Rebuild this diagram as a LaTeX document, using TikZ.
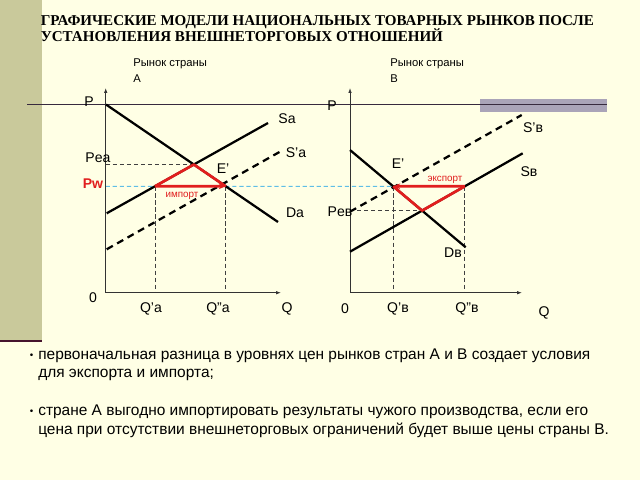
\documentclass[tikz,border=0pt]{standalone}
\usepackage{fontspec}
\setmainfont{Liberation Sans}
\newfontfamily\titlefont{Liberation Serif}
\usetikzlibrary{arrows.meta, positioning}
\definecolor{slidebg}{RGB}{255,255,229}
\definecolor{sidebar}{RGB}{201,201,155}
\definecolor{bandgray}{RGB}{170,164,184}
\definecolor{ruledark}{RGB}{55,42,62}
\definecolor{barline}{RGB}{70,20,45}
\definecolor{tradered}{RGB}{225,30,30}
\definecolor{worldblue}{RGB}{95,190,230}

\begin{document}
\begin{tikzpicture}[x=0.025cm, y=-0.025cm,
  axis/.style={draw=black!80, line width=0.6pt, -{Latex[length=3.5pt,width=2.5pt]}},
  curve/.style={line width=1.6pt},
  shifted/.style={line width=1.6pt, dash pattern=on 5pt off 3.5pt},
  guide/.style={draw=black!75, line width=0.6pt, dash pattern=on 3pt off 2pt},
  trade/.style={draw=tradered, line width=1.9pt, line join=round},
  lbl/.style={font=\fontsize{10}{12}\selectfont, inner sep=0pt},
  note/.style={font=\fontsize{7}{8}\selectfont, text=tradered, inner sep=0pt},
  mkt/.style={font=\fontsize{8}{9}\selectfont, inner sep=0pt, anchor=base west},
  body/.style={font=\fontsize{11}{13}\selectfont, inner sep=0pt, anchor=base west},
  heading/.style={font=\titlefont\bfseries\fontsize{10.7}{12}\selectfont, inner sep=0pt, anchor=base west}
]
  % slide background
  \fill[slidebg] (0,0) rectangle (640,480);
  \useasboundingbox (0,0) rectangle (640,480);
  \fill[sidebar] (0,0) rectangle (42,340);
  \draw[barline, line width=1.2pt] (0,341) -- (42,341);
  \fill[bandgray] (480,99) rectangle (607,111.7);
  \draw[ruledark, line width=1pt] (27,104.3) -- (607,104.3);

  \node[heading] (title1) at (40.5,25.7) {ГРАФИЧЕСКИЕ МОДЕЛИ НАЦИОНАЛЬНЫХ ТОВАРНЫХ РЫНКОВ ПОСЛЕ};
  \node[heading] (title2) at (40.5,41.7) {УСТАНОВЛЕНИЯ ВНЕШНЕТОРГОВЫХ ОТНОШЕНИЙ};

  \node[mkt] (mktA) at (133,66) {Рынок страны};
  \node[mkt] (mktAname) at (133,82) {А};
  \node[mkt] (mktB) at (390,66) {Рынок страны};
  \node[mkt] (mktBname) at (390,82) {В};

  % market A
  \coordinate (oA) at (105.7,292.7);
  \coordinate (pA) at (105.7,88);
  \coordinate (qA) at (281,292.7);
  \coordinate (daS) at (106,104.5);
  \coordinate (daE) at (278,222);
  \coordinate (saS) at (106.7,213.3);
  \coordinate (saE) at (268,123);
  \coordinate (sa2S) at (106.7,249.3);
  \coordinate (sa2E) at (280,151.7);
  \coordinate (pwA) at (105.7,186.3);
  \coordinate (pwFar) at (620,186.3);
  \coordinate (eA) at (intersection of daS--daE and saS--saE);
  \coordinate (qa1) at (intersection of pwA--pwFar and saS--saE);
  \coordinate (qa2) at (intersection of pwA--pwFar and daS--daE);
  \coordinate (peaA) at (oA |- eA);

  % market B
  \coordinate (oB) at (350,292.7);
  \coordinate (pB) at (350,88);
  \coordinate (qB) at (522,292.7);
  \coordinate (dbS) at (350,150);
  \coordinate (dbE) at (465.7,247.3);
  \coordinate (sbS) at (350,251.7);
  \coordinate (sbE) at (522.7,153.3);
  \coordinate (sb2S) at (350,211.7);
  \coordinate (sb2E) at (521.7,115);
  \coordinate (eB) at (intersection of dbS--dbE and sbS--sbE);
  \coordinate (qb1) at (intersection of pwA--pwFar and dbS--dbE);
  \coordinate (qb2) at (intersection of pwA--pwFar and sbS--sbE);
  \coordinate (peB) at (oB |- eB);

  % world price and guides
  \draw[worldblue, line width=0.7pt, dash pattern=on 3pt off 2pt] (pwA) -- (qb1);
  \draw[guide] (peaA) -- (eA);
  \draw[guide] (qa1) -- (oA -| qa1);
  \draw[guide] (qa2) -- (oA -| qa2);
  \draw[guide] (peB) -- (eB);
  \draw[guide] (qb1) -- (oB -| qb1);
  \draw[guide] (qb2) -- (oB -| qb2);

  \draw[axis] (oA) -- (pA);
  \draw[axis] (oA) -- (qA);
  \draw[axis] (oB) -- (pB);
  \draw[axis] (oB) -- (qB);

  \draw[curve] (daS) -- (daE);
  \draw[curve] (saS) -- (saE);
  \draw[shifted] (sa2S) -- (sa2E);
  \draw[curve] (dbS) -- (dbE);
  \draw[curve] (sbS) -- (sbE);
  \draw[shifted] (sb2S) -- (sb2E);

  \draw[trade] (qa1) -- (eA) -- (qa2);
  \draw[trade, -{Stealth[length=5pt,width=4pt]}] (qa1) -- (qa2);
  \draw[trade] (qb2) -- (eB) -- (qb1);
  \draw[trade, -{Stealth[length=5pt,width=4pt]}] (qb2) -- (qb1);

  % labels A
  \node[lbl] (lPa) at (89,102) {P};
  \node[lbl] (lPea) at (98,158) {Pea};
  \node[lbl, text=tradered, font=\bfseries\fontsize{10}{12}\selectfont] (lPw) at (93,184) {Pw};
  \node[lbl] (l0a) at (93,298) {0};
  \node[lbl] (lQa1) at (151,309) {Q’a};
  \node[lbl] (lQa2) at (218,309) {Q”a};
  \node[lbl] (lQa) at (287,309) {Q};
  \node[lbl] (lSa) at (287,119) {Sa};
  \node[lbl] (lSa2) at (296,153) {S’a};
  \node[lbl] (lDa) at (295,213) {Da};
  \node[lbl] (lEa) at (223,169) {E’};
  \node[note] (lImp) at (182,196) {импорт};

  % labels B
  \node[lbl] (lPb) at (332,106) {P};
  \node[lbl] (lPeb) at (340,212) {Peв};
  \node[lbl] (l0b) at (345,309) {0};
  \node[lbl] (lQb1) at (398,309) {Q’в};
  \node[lbl] (lQb2) at (467,309) {Q”в};
  \node[lbl] (lQb) at (544,313) {Q};
  \node[lbl] (lSb2) at (533,128) {S’в};
  \node[lbl] (lSb) at (529,172) {Sв};
  \node[lbl] (lDb) at (453,253) {Dв};
  \node[lbl] (lEb) at (398,164) {E’};
  \node[note] (lExp) at (445,180) {экспорт};

  % notes
  \node[body, font=\fontsize{7}{8}\selectfont] (dot1) at (29.5,358.5) {•};
  \node[body] (text1a) at (38,359) {первоначальная разница в уровнях цен рынков стран А и В создает условия};
  \node[body] (text1b) at (38,377) {для экспорта и импорта;};
  \node[body, font=\fontsize{7}{8}\selectfont] (dot2) at (29.5,414.5) {•};
  \node[body] (text2a) at (38,415) {стране А выгодно импортировать результаты чужого производства, если его};
  \node[body] (text2b) at (38,434) {цена при отсутствии внешнеторговых ограничений будет выше цены страны В.};
\end{tikzpicture}
\end{document}
